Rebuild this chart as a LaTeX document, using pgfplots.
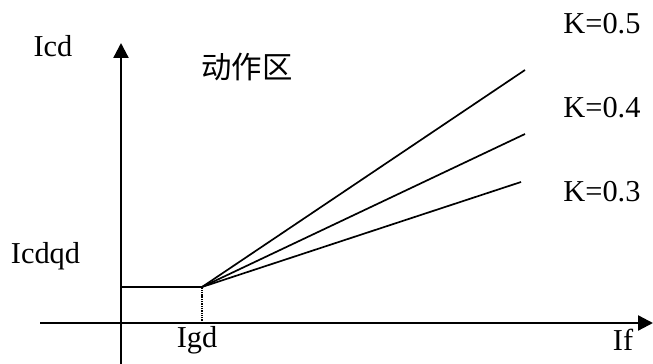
\documentclass[border=0pt]{standalone}
\usepackage{fontspec}
\setmainfont{Liberation Serif}
\newfontfamily\cjk{Noto Sans CJK SC}
\usepackage{pgfplots}
\pgfplotsset{compat=1.18}
\usetikzlibrary{arrows.meta}
\newcommand{\F}{\fontsize{30.5}{36}\selectfont}
\begin{document}
\begin{tikzpicture}
\begin{axis}[
  width=653bp, height=364bp, scale only axis,
  xmin=-121, xmax=532, ymin=-41, ymax=323,
  axis lines=none, clip=false, ticks=none,
]
% axes
\addplot[line width=2.3pt, -{Triangle[length=15bp, width=15bp]}] coordinates {(-81,0) (532,0)};
\addplot[line width=2.3pt, -{Triangle[length=15bp, width=15bp]}] coordinates {(0,-41) (0,280)};
% start current
\addplot[line width=1.7pt] coordinates {(0,36) (81,36)};
\addplot[line width=1.3pt, densely dotted] coordinates {(81,0) (81,36)};
% slopes
\addplot[line width=1.7pt] coordinates {(81,36) (404,253)};
\addplot[line width=1.7pt] coordinates {(81,36) (404,189)};
\addplot[line width=1.7pt] coordinates {(81,36) (400,141)};
% labels
\node[inner sep=0pt, anchor=base, font=\F] at (axis cs:-68,266) {Icd};
\node[inner sep=0pt, anchor=center, font=\F] at (axis cs:126,255.5) {\cjk 动作区};
\node[inner sep=0pt, anchor=base, font=\F] at (axis cs:481,289) {K=0.5};
\node[inner sep=0pt, anchor=base, font=\F] at (axis cs:481,205) {K=0.4};
\node[inner sep=0pt, anchor=base, font=\F] at (axis cs:481,121) {K=0.3};
\node[inner sep=0pt, anchor=base, font=\F] at (axis cs:-75.5,59) {Icdqd};
\node[inner sep=0pt, anchor=base, font=\F] at (axis cs:76,-24) {Igd};
\node[inner sep=0pt, anchor=base, font=\F] at (axis cs:502,-27) {If};
\end{axis}
\pgfresetboundingbox
\useasboundingbox (0,0) rectangle (653bp,364bp);
\end{tikzpicture}
\end{document}
